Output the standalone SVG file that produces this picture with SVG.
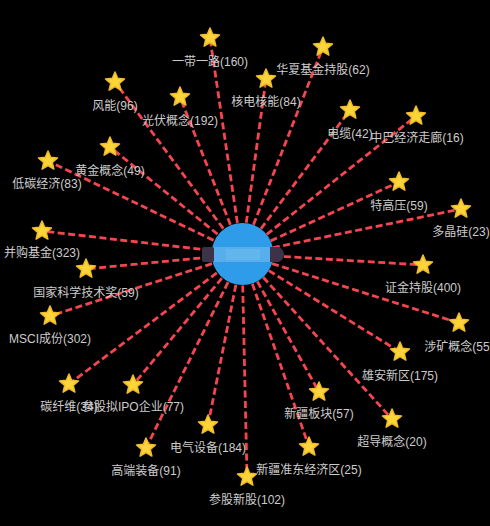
<svg xmlns="http://www.w3.org/2000/svg" width="490" height="526" viewBox="0 0 490 526">
<style>
.edge{stroke:#f5464f;stroke-width:2.8;stroke-dasharray:7 3.5;fill:none}
.lbl{font-family:"Liberation Sans","Noto Sans CJK SC",sans-serif;font-size:12px;fill:#cccccc;text-anchor:middle;dominant-baseline:central}
.star{fill:#fdd53a;stroke:#f0bc2a;stroke-width:1.5;stroke-linejoin:round}
</style>
<defs>
<path id="st" d="M0,-10 L2.65,-3.64 L9.51,-3.09 L4.28,1.39 L5.88,8.09 L0,4.5 L-5.88,8.09 L-4.28,1.39 L-9.51,-3.09 L-2.65,-3.64 Z"/>
</defs>
<rect width="490" height="526" fill="#000"/>
<g id="edges">
<line class="edge" x1="242" y1="254" x2="210" y2="38"/>
<line class="edge" x1="242" y1="254" x2="323" y2="47"/>
<line class="edge" x1="242" y1="254" x2="266" y2="79"/>
<line class="edge" x1="242" y1="254" x2="115" y2="82"/>
<line class="edge" x1="242" y1="254" x2="180" y2="97"/>
<line class="edge" x1="242" y1="254" x2="350" y2="110"/>
<line class="edge" x1="242" y1="254" x2="416" y2="116"/>
<line class="edge" x1="242" y1="254" x2="110" y2="147"/>
<line class="edge" x1="242" y1="254" x2="48" y2="161"/>
<line class="edge" x1="242" y1="254" x2="399" y2="182"/>
<line class="edge" x1="242" y1="254" x2="461" y2="209"/>
<line class="edge" x1="242" y1="254" x2="42" y2="231"/>
<line class="edge" x1="242" y1="254" x2="86" y2="269"/>
<line class="edge" x1="242" y1="254" x2="423" y2="265"/>
<line class="edge" x1="242" y1="254" x2="50" y2="316"/>
<line class="edge" x1="242" y1="254" x2="459" y2="323"/>
<line class="edge" x1="242" y1="254" x2="400" y2="352"/>
<line class="edge" x1="242" y1="254" x2="69" y2="384"/>
<line class="edge" x1="242" y1="254" x2="133" y2="385"/>
<line class="edge" x1="242" y1="254" x2="319" y2="392"/>
<line class="edge" x1="242" y1="254" x2="392" y2="419"/>
<line class="edge" x1="242" y1="254" x2="208" y2="425"/>
<line class="edge" x1="242" y1="254" x2="146" y2="448"/>
<line class="edge" x1="242" y1="254" x2="309" y2="447"/>
<line class="edge" x1="242" y1="254" x2="247" y2="477"/>
</g>
<g id="center">
<circle cx="242.5" cy="254" r="31" fill="#2e9ce8"/>
<rect x="202" y="247" width="12" height="15" rx="2" fill="#3d3247"/>
<path d="M270,247 H279 Q284,250 284,254.5 Q284,259 279,262 H270 Z" fill="#3d3247"/>
<rect x="214" y="247" width="56" height="15" fill="#58aeea"/>
<rect x="226" y="249" width="34" height="11" fill="#62b6ee"/>
</g>
<g id="n1"><use href="#st" class="star" x="210" y="38"/><text class="lbl" x="210" y="62">一带一路(160)</text></g>
<g id="n2"><use href="#st" class="star" x="323" y="47"/><text class="lbl" x="323" y="70">华夏基金持股(62)</text></g>
<g id="n3"><use href="#st" class="star" x="266" y="79"/><text class="lbl" x="266" y="102">核电核能(84)</text></g>
<g id="n4"><use href="#st" class="star" x="115" y="82"/><text class="lbl" x="115" y="106">风能(96)</text></g>
<g id="n5"><use href="#st" class="star" x="180" y="97"/><text class="lbl" x="180" y="121">光伏概念(192)</text></g>
<g id="n6"><use href="#st" class="star" x="350" y="110"/><text class="lbl" x="350" y="134">电缆(42)</text></g>
<g id="n7"><use href="#st" class="star" x="416" y="116"/><text class="lbl" x="417" y="138">中巴经济走廊(16)</text></g>
<g id="n8"><use href="#st" class="star" x="110" y="147"/><text class="lbl" x="110" y="171">黄金概念(49)</text></g>
<g id="n9"><use href="#st" class="star" x="48" y="161"/><text class="lbl" x="47" y="184">低碳经济(83)</text></g>
<g id="n10"><use href="#st" class="star" x="399" y="182"/><text class="lbl" x="399" y="206">特高压(59)</text></g>
<g id="n11"><use href="#st" class="star" x="461" y="209"/><text class="lbl" x="461" y="232">多晶硅(23)</text></g>
<g id="n12"><use href="#st" class="star" x="42" y="231"/><text class="lbl" x="42" y="253">并购基金(323)</text></g>
<g id="n13"><use href="#st" class="star" x="86" y="269"/><text class="lbl" x="86" y="293">国家科学技术奖(59)</text></g>
<g id="n14"><use href="#st" class="star" x="423" y="265"/><text class="lbl" x="423" y="288">证金持股(400)</text></g>
<g id="n15"><use href="#st" class="star" x="50" y="316"/><text class="lbl" x="50" y="339">MSCI成份(302)</text></g>
<g id="n16"><use href="#st" class="star" x="459" y="323"/><text class="lbl" x="459" y="347">涉矿概念(55)</text></g>
<g id="n17"><use href="#st" class="star" x="400" y="352"/><text class="lbl" x="400" y="376">雄安新区(175)</text></g>
<g id="n18"><use href="#st" class="star" x="69" y="384"/><text class="lbl" x="69" y="407">碳纤维(34)</text></g>
<g id="n19"><use href="#st" class="star" x="133" y="385"/><text class="lbl" x="133" y="407">参股拟IPO企业(77)</text></g>
<g id="n20"><use href="#st" class="star" x="319" y="392"/><text class="lbl" x="319" y="414">新疆板块(57)</text></g>
<g id="n21"><use href="#st" class="star" x="392" y="419"/><text class="lbl" x="392" y="442">超导概念(20)</text></g>
<g id="n22"><use href="#st" class="star" x="208" y="425"/><text class="lbl" x="208" y="448">电气设备(184)</text></g>
<g id="n23"><use href="#st" class="star" x="146" y="448"/><text class="lbl" x="146" y="471">高端装备(91)</text></g>
<g id="n24"><use href="#st" class="star" x="309" y="447"/><text class="lbl" x="309" y="470">新疆准东经济区(25)</text></g>
<g id="n25"><use href="#st" class="star" x="247" y="477"/><text class="lbl" x="247" y="500">参股新股(102)</text></g>
</svg>
